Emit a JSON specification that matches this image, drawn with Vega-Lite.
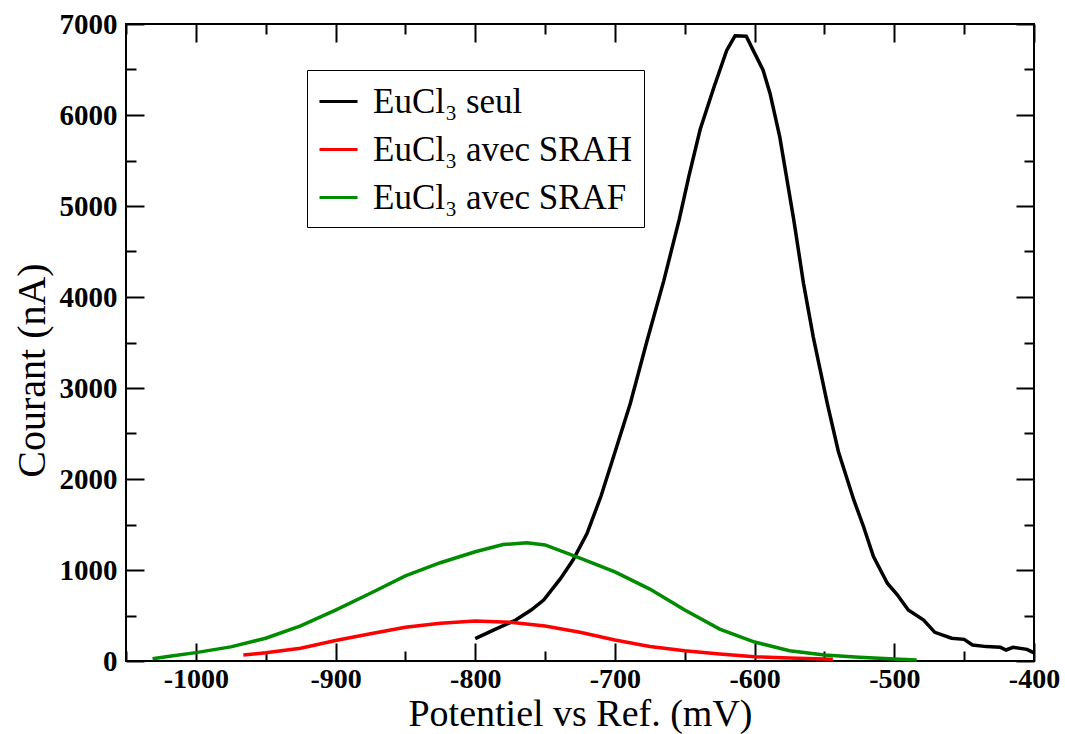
{
  "$schema": "https://vega.github.io/schema/vega-lite/v6.json",
  "width": 908,
  "height": 637,
  "autosize": {"type": "none"},
  "padding": {"left": 126, "top": 24, "right": 31, "bottom": 73},
  "background": "white",
  "config": {
    "view": {"stroke": "black", "strokeWidth": 2},
    "font": "Liberation Serif"
  },
  "datasets": {
    "curves": [
      {"serie": "EuCl₃ seul", "mV": -800, "nA": 245},
      {"serie": "EuCl₃ seul", "mV": -787, "nA": 340},
      {"serie": "EuCl₃ seul", "mV": -771, "nA": 450},
      {"serie": "EuCl₃ seul", "mV": -760, "nA": 560},
      {"serie": "EuCl₃ seul", "mV": -751, "nA": 670},
      {"serie": "EuCl₃ seul", "mV": -739, "nA": 905},
      {"serie": "EuCl₃ seul", "mV": -730, "nA": 1110},
      {"serie": "EuCl₃ seul", "mV": -720, "nA": 1400},
      {"serie": "EuCl₃ seul", "mV": -710, "nA": 1810},
      {"serie": "EuCl₃ seul", "mV": -701, "nA": 2245},
      {"serie": "EuCl₃ seul", "mV": -689, "nA": 2830},
      {"serie": "EuCl₃ seul", "mV": -677, "nA": 3520},
      {"serie": "EuCl₃ seul", "mV": -665, "nA": 4180},
      {"serie": "EuCl₃ seul", "mV": -654, "nA": 4850},
      {"serie": "EuCl₃ seul", "mV": -647, "nA": 5330},
      {"serie": "EuCl₃ seul", "mV": -639, "nA": 5840},
      {"serie": "EuCl₃ seul", "mV": -629, "nA": 6310},
      {"serie": "EuCl₃ seul", "mV": -620, "nA": 6710},
      {"serie": "EuCl₃ seul", "mV": -614, "nA": 6870},
      {"serie": "EuCl₃ seul", "mV": -606, "nA": 6865},
      {"serie": "EuCl₃ seul", "mV": -601, "nA": 6710},
      {"serie": "EuCl₃ seul", "mV": -594, "nA": 6495},
      {"serie": "EuCl₃ seul", "mV": -589, "nA": 6240},
      {"serie": "EuCl₃ seul", "mV": -582, "nA": 5760},
      {"serie": "EuCl₃ seul", "mV": -572, "nA": 4850},
      {"serie": "EuCl₃ seul", "mV": -565, "nA": 4150},
      {"serie": "EuCl₃ seul", "mV": -558, "nA": 3560},
      {"serie": "EuCl₃ seul", "mV": -548, "nA": 2830},
      {"serie": "EuCl₃ seul", "mV": -540, "nA": 2300},
      {"serie": "EuCl₃ seul", "mV": -529, "nA": 1770},
      {"serie": "EuCl₃ seul", "mV": -522, "nA": 1475},
      {"serie": "EuCl₃ seul", "mV": -515, "nA": 1150},
      {"serie": "EuCl₃ seul", "mV": -505, "nA": 855},
      {"serie": "EuCl₃ seul", "mV": -498, "nA": 730},
      {"serie": "EuCl₃ seul", "mV": -490, "nA": 560},
      {"serie": "EuCl₃ seul", "mV": -479, "nA": 450},
      {"serie": "EuCl₃ seul", "mV": -471, "nA": 315},
      {"serie": "EuCl₃ seul", "mV": -459, "nA": 250},
      {"serie": "EuCl₃ seul", "mV": -450, "nA": 238},
      {"serie": "EuCl₃ seul", "mV": -444, "nA": 176},
      {"serie": "EuCl₃ seul", "mV": -434, "nA": 158},
      {"serie": "EuCl₃ seul", "mV": -424, "nA": 150},
      {"serie": "EuCl₃ seul", "mV": -420, "nA": 121},
      {"serie": "EuCl₃ seul", "mV": -415, "nA": 150},
      {"serie": "EuCl₃ seul", "mV": -405, "nA": 128},
      {"serie": "EuCl₃ seul", "mV": -400, "nA": 90},
      {"serie": "EuCl₃ avec SRAH", "mV": -966, "nA": 66},
      {"serie": "EuCl₃ avec SRAH", "mV": -950, "nA": 91},
      {"serie": "EuCl₃ avec SRAH", "mV": -925, "nA": 140},
      {"serie": "EuCl₃ avec SRAH", "mV": -900, "nA": 225},
      {"serie": "EuCl₃ avec SRAH", "mV": -875, "nA": 300},
      {"serie": "EuCl₃ avec SRAH", "mV": -850, "nA": 370},
      {"serie": "EuCl₃ avec SRAH", "mV": -825, "nA": 415},
      {"serie": "EuCl₃ avec SRAH", "mV": -800, "nA": 440},
      {"serie": "EuCl₃ avec SRAH", "mV": -775, "nA": 425},
      {"serie": "EuCl₃ avec SRAH", "mV": -750, "nA": 385},
      {"serie": "EuCl₃ avec SRAH", "mV": -725, "nA": 315},
      {"serie": "EuCl₃ avec SRAH", "mV": -700, "nA": 230},
      {"serie": "EuCl₃ avec SRAH", "mV": -675, "nA": 160},
      {"serie": "EuCl₃ avec SRAH", "mV": -650, "nA": 113},
      {"serie": "EuCl₃ avec SRAH", "mV": -625, "nA": 77},
      {"serie": "EuCl₃ avec SRAH", "mV": -600, "nA": 47},
      {"serie": "EuCl₃ avec SRAH", "mV": -575, "nA": 33},
      {"serie": "EuCl₃ avec SRAH", "mV": -544, "nA": 20},
      {"serie": "EuCl₃ avec SRAF", "mV": -1031, "nA": 25},
      {"serie": "EuCl₃ avec SRAF", "mV": -1020, "nA": 50},
      {"serie": "EuCl₃ avec SRAF", "mV": -1000, "nA": 92},
      {"serie": "EuCl₃ avec SRAF", "mV": -975, "nA": 155},
      {"serie": "EuCl₃ avec SRAF", "mV": -950, "nA": 250},
      {"serie": "EuCl₃ avec SRAF", "mV": -925, "nA": 385},
      {"serie": "EuCl₃ avec SRAF", "mV": -900, "nA": 560},
      {"serie": "EuCl₃ avec SRAF", "mV": -875, "nA": 745},
      {"serie": "EuCl₃ avec SRAF", "mV": -850, "nA": 935},
      {"serie": "EuCl₃ avec SRAF", "mV": -825, "nA": 1080},
      {"serie": "EuCl₃ avec SRAF", "mV": -800, "nA": 1200},
      {"serie": "EuCl₃ avec SRAF", "mV": -780, "nA": 1280},
      {"serie": "EuCl₃ avec SRAF", "mV": -763, "nA": 1300},
      {"serie": "EuCl₃ avec SRAF", "mV": -750, "nA": 1275},
      {"serie": "EuCl₃ avec SRAF", "mV": -725, "nA": 1130},
      {"serie": "EuCl₃ avec SRAF", "mV": -700, "nA": 980},
      {"serie": "EuCl₃ avec SRAF", "mV": -675, "nA": 790},
      {"serie": "EuCl₃ avec SRAF", "mV": -650, "nA": 560},
      {"serie": "EuCl₃ avec SRAF", "mV": -625, "nA": 350},
      {"serie": "EuCl₃ avec SRAF", "mV": -600, "nA": 208},
      {"serie": "EuCl₃ avec SRAF", "mV": -575, "nA": 113},
      {"serie": "EuCl₃ avec SRAF", "mV": -550, "nA": 66},
      {"serie": "EuCl₃ avec SRAF", "mV": -525, "nA": 40},
      {"serie": "EuCl₃ avec SRAF", "mV": -500, "nA": 22},
      {"serie": "EuCl₃ avec SRAF", "mV": -484, "nA": 12}
    ]
  },
  "data": {"name": "curves"},
  "layer": [
    {
      "mark": {"type": "line", "strokeWidth": 3.5},
      "encoding": {
        "x": {
          "field": "mV", "type": "quantitative",
          "scale": {"domain": [-1050, -400], "nice": false, "zero": false},
          "axis": {
            "orient": "bottom",
            "values": [-1000, -900, -800, -700, -600, -500, -400],
            "tickSize": -18, "tickWidth": 2, "tickColor": "black",
            "domain": false, "grid": false,
            "labelExpr": "'' + datum.value",
            "labelFont": "Liberation Serif", "labelFontWeight": "bold", "labelFontSize": 28,
            "labelColor": "black", "labelPadding": 22, "labelFlush": false, "labelOverlap": false,
            "title": "Potentiel vs Ref. (mV)",
            "titleFont": "Liberation Serif", "titleFontWeight": "normal", "titleFontSize": 38,
            "titleColor": "black", "titleBaseline": "alphabetic", "titleY": 64
          }
        },
        "y": {
          "field": "nA", "type": "quantitative",
          "scale": {"domain": [0, 7000], "nice": false},
          "axis": {
            "orient": "left",
            "values": [0, 1000, 2000, 3000, 4000, 5000, 6000, 7000],
            "tickSize": -18, "tickWidth": 2, "tickColor": "black",
            "domain": false, "grid": false,
            "labelExpr": "'' + datum.value",
            "labelFont": "Liberation Serif", "labelFontWeight": "bold", "labelFontSize": 29,
            "labelColor": "black", "labelPadding": 27, "labelFlush": false, "labelOverlap": false,
            "title": "Courant (nA)",
            "titleFont": "Liberation Serif", "titleFontWeight": "normal", "titleFontSize": 40,
            "titleColor": "black", "titleBaseline": "alphabetic", "titleX": -82, "titleY": 346, "titleAngle": 270
          }
        },
        "color": {
          "field": "serie", "type": "nominal",
          "scale": {
            "domain": ["EuCl₃ seul", "EuCl₃ avec SRAH", "EuCl₃ avec SRAF"],
            "range": ["#000000", "#ff0000", "#008b00"]
          },
          "legend": {
            "orient": "none", "legendX": 181, "legendY": 46,
            "title": null,
            "fillColor": "white", "strokeColor": "black", "padding": 11,
            "symbolType": "stroke", "symbolSize": 1444, "symbolStrokeWidth": 3,
            "labelFont": "Liberation Serif", "labelFontSize": 35, "labelColor": "black",
            "labelOffset": 14, "labelLimit": 0, "rowPadding": 9
          }
        }
      }
    },
    {
      "mark": {"type": "point", "opacity": 0},
      "encoding": {
        "x": {
          "field": "mV", "type": "quantitative",
          "axis": {
            "orient": "bottom",
            "values": [-1050, -950, -850, -750, -650, -550, -450],
            "tickSize": -10, "tickWidth": 2, "tickColor": "black",
            "domain": false, "grid": false, "labels": false, "title": null
          }
        },
        "y": {
          "field": "nA", "type": "quantitative",
          "axis": {
            "orient": "left",
            "values": [500, 1500, 2500, 3500, 4500, 5500, 6500],
            "tickSize": -10, "tickWidth": 2, "tickColor": "black",
            "domain": false, "grid": false, "labels": false, "title": null
          }
        }
      }
    },
    {
      "mark": {"type": "point", "opacity": 0},
      "encoding": {
        "x": {
          "field": "mV", "type": "quantitative",
          "axis": {
            "orient": "top",
            "values": [-1000, -900, -800, -700, -600, -500, -400],
            "tickSize": -18, "tickWidth": 2, "tickColor": "black",
            "domain": false, "grid": false, "labels": false, "title": null
          }
        },
        "y": {
          "field": "nA", "type": "quantitative",
          "axis": {
            "orient": "right",
            "values": [0, 1000, 2000, 3000, 4000, 5000, 6000, 7000],
            "tickSize": -18, "tickWidth": 2, "tickColor": "black",
            "domain": false, "grid": false, "labels": false, "title": null
          }
        }
      }
    },
    {
      "mark": {"type": "point", "opacity": 0},
      "encoding": {
        "x": {
          "field": "mV", "type": "quantitative",
          "axis": {
            "orient": "top",
            "values": [-1050, -950, -850, -750, -650, -550, -450],
            "tickSize": -10, "tickWidth": 2, "tickColor": "black",
            "domain": false, "grid": false, "labels": false, "title": null
          }
        },
        "y": {
          "field": "nA", "type": "quantitative",
          "axis": {
            "orient": "right",
            "values": [500, 1500, 2500, 3500, 4500, 5500, 6500],
            "tickSize": -10, "tickWidth": 2, "tickColor": "black",
            "domain": false, "grid": false, "labels": false, "title": null
          }
        }
      }
    }
  ],
  "resolve": {"axis": {"x": "independent", "y": "independent"}}
}
